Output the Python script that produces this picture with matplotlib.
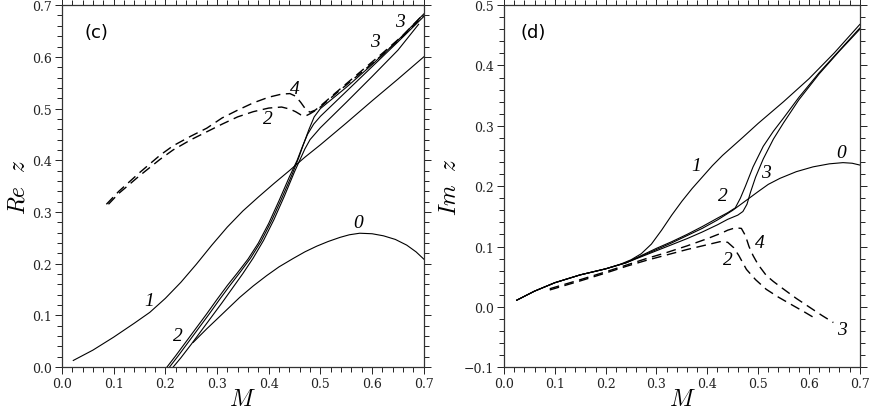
import matplotlib
matplotlib.use("Agg")
import matplotlib.pyplot as plt
from matplotlib.ticker import MultipleLocator, FuncFormatter

plt.rcParams['mathtext.fontset'] = 'cm'
plt.rcParams['font.family'] = ['DejaVu Serif']

# ---------------- panel (c): Re z ----------------
c0_m = [0.254, 0.28, 0.30, 0.322, 0.344, 0.37, 0.396, 0.42, 0.447, 0.47, 0.493, 0.515,
        0.538, 0.556, 0.576, 0.60, 0.622, 0.645, 0.667, 0.685, 0.70]
c0_v = [0.048, 0.074, 0.093, 0.114, 0.135, 0.157, 0.177, 0.194, 0.210, 0.223, 0.234,
        0.243, 0.251, 0.256, 0.259, 0.258, 0.254, 0.247, 0.236, 0.223, 0.209]

c1_m = [0.022, 0.06, 0.10, 0.14, 0.17, 0.20, 0.23, 0.26, 0.29, 0.32, 0.35, 0.38,
        0.41, 0.44, 0.47, 0.50, 0.55, 0.60, 0.65, 0.70]
c1_v = [0.013, 0.033, 0.058, 0.085, 0.106, 0.133, 0.164, 0.199, 0.236, 0.271, 0.302,
        0.329, 0.355, 0.380, 0.406, 0.430, 0.472, 0.515, 0.557, 0.600]

# solid branch "2"
cA_m = [0.203, 0.22, 0.24, 0.26, 0.28, 0.30, 0.32, 0.34, 0.36, 0.38, 0.40, 0.42,
        0.44, 0.455, 0.465, 0.475, 0.487, 0.50, 0.55, 0.60, 0.65, 0.70]
cA_v = [0.0, 0.022, 0.049, 0.076, 0.103, 0.131, 0.158, 0.183, 0.209, 0.240, 0.278,
        0.322, 0.368, 0.400, 0.426, 0.450, 0.470, 0.485, 0.533, 0.581, 0.629, 0.678]
# solid branch following upper curve
cC_m = [0.208, 0.225, 0.245, 0.265, 0.285, 0.305, 0.325, 0.345, 0.365, 0.385, 0.405,
        0.425, 0.445, 0.458, 0.468, 0.478, 0.488, 0.50, 0.55, 0.60, 0.65, 0.70]
cC_v = [0.0, 0.022, 0.049, 0.076, 0.103, 0.131, 0.158, 0.184, 0.211, 0.243, 0.282,
        0.326, 0.372, 0.405, 0.433, 0.460, 0.484, 0.500, 0.541, 0.585, 0.632, 0.683]
# solid branch "3" (lower)
cB_m = [0.215, 0.23, 0.25, 0.27, 0.29, 0.31, 0.33, 0.35, 0.37, 0.39, 0.41, 0.43,
        0.45, 0.46, 0.47, 0.48, 0.50, 0.55, 0.60, 0.65, 0.69]
cB_v = [0.0, 0.018, 0.044, 0.071, 0.098, 0.125, 0.153, 0.181, 0.211, 0.245, 0.285,
        0.330, 0.378, 0.400, 0.422, 0.440, 0.463, 0.512, 0.562, 0.613, 0.663]

# dashed upper branches
cD4_m = [0.086, 0.11, 0.15, 0.19, 0.215, 0.25, 0.28, 0.31, 0.34, 0.37, 0.40, 0.425,
         0.441, 0.452, 0.462, 0.472, 0.48, 0.49, 0.50, 0.53, 0.576, 0.62, 0.66, 0.70]
cD4_v = [0.315, 0.340, 0.376, 0.410, 0.428, 0.447, 0.462, 0.482, 0.497, 0.511, 0.522,
         0.528, 0.529, 0.524, 0.512, 0.498, 0.493, 0.497, 0.505, 0.531, 0.570, 0.607,
         0.642, 0.683]
cD2_m = [0.09, 0.11, 0.15, 0.19, 0.215, 0.25, 0.28, 0.31, 0.34, 0.37, 0.40, 0.425,
         0.441, 0.452, 0.462, 0.472, 0.48, 0.49, 0.50, 0.53, 0.576, 0.62, 0.66, 0.70]
cD2_v = [0.315, 0.336, 0.370, 0.402, 0.420, 0.440, 0.455, 0.470, 0.484, 0.494, 0.501,
         0.503, 0.499, 0.494, 0.488, 0.486, 0.490, 0.496, 0.503, 0.529, 0.567, 0.604,
         0.640, 0.680]

c_labels = ['0', '1', '2', '2', '4', '3', '3']
c_lab_m = [0.573, 0.168, 0.225, 0.399, 0.451, 0.605, 0.654]
c_lab_v = [0.280, 0.129, 0.061, 0.480, 0.538, 0.630, 0.669]

# ---------------- panel (d): Im z ----------------
d1_m = [0.025, 0.06, 0.10, 0.15, 0.20, 0.23, 0.25, 0.27, 0.29, 0.31, 0.33, 0.35, 0.37,
        0.39, 0.41, 0.43, 0.45, 0.47, 0.50, 0.55, 0.60, 0.65, 0.70]
d1_v = [0.011, 0.026, 0.040, 0.053, 0.063, 0.071, 0.078, 0.088, 0.104, 0.127, 0.152,
        0.175, 0.196, 0.215, 0.234, 0.251, 0.266, 0.281, 0.304, 0.340, 0.378, 0.421,
        0.468]

d0_m = [0.025, 0.06, 0.10, 0.15, 0.20, 0.24, 0.27, 0.30, 0.33, 0.36, 0.39, 0.42, 0.45,
        0.471, 0.50, 0.52, 0.543, 0.575, 0.608, 0.64, 0.667, 0.685, 0.70]
d0_v = [0.011, 0.026, 0.040, 0.053, 0.063, 0.073, 0.084, 0.095, 0.106, 0.118, 0.130,
        0.144, 0.160, 0.173, 0.191, 0.203, 0.213, 0.224, 0.232, 0.237, 0.239, 0.238,
        0.235]

d2_m = [0.025, 0.06, 0.10, 0.15, 0.20, 0.24, 0.27, 0.30, 0.33, 0.36, 0.39, 0.42, 0.44,
        0.455, 0.465, 0.475, 0.49, 0.51, 0.53, 0.55, 0.58, 0.62, 0.66, 0.70]
d2_v = [0.011, 0.026, 0.040, 0.053, 0.063, 0.073, 0.085, 0.097, 0.108, 0.120, 0.133,
        0.147, 0.156, 0.164, 0.180, 0.200, 0.232, 0.266, 0.291, 0.313, 0.347, 0.388,
        0.425, 0.462]

d3_m = [0.025, 0.06, 0.10, 0.15, 0.20, 0.24, 0.27, 0.30, 0.33, 0.36, 0.39, 0.42, 0.44,
        0.46, 0.47, 0.478, 0.485, 0.495, 0.51, 0.53, 0.55, 0.58, 0.62, 0.66, 0.70]
d3_v = [0.011, 0.026, 0.040, 0.053, 0.063, 0.073, 0.083, 0.093, 0.103, 0.113, 0.124,
        0.136, 0.145, 0.152, 0.158, 0.170, 0.190, 0.215, 0.245, 0.278, 0.305, 0.343,
        0.386, 0.424, 0.460]

dD4_m = [0.09, 0.15, 0.20, 0.24, 0.28, 0.32, 0.36, 0.40, 0.43, 0.44, 0.455, 0.467,
         0.475, 0.482, 0.49, 0.50, 0.516, 0.53, 0.549, 0.575, 0.60, 0.625, 0.648]
dD4_v = [0.030, 0.045, 0.058, 0.069, 0.080, 0.090, 0.101, 0.113, 0.123, 0.127, 0.131,
         0.130, 0.118, 0.100, 0.085, 0.070, 0.052, 0.042, 0.030, 0.014, 0.000, -0.014,
         -0.026]
dD2_m = [0.09, 0.15, 0.20, 0.24, 0.28, 0.32, 0.36, 0.40, 0.425, 0.44, 0.452, 0.462,
         0.477, 0.495, 0.516, 0.54, 0.569, 0.59, 0.61]
dD2_v = [0.028, 0.043, 0.056, 0.067, 0.077, 0.086, 0.095, 0.103, 0.108, 0.107, 0.098,
         0.085, 0.062, 0.045, 0.029, 0.016, 0.002, -0.008, -0.018]

d_labels = ['1', '2', '3', '0', '4', '2', '3']
d_lab_m = [0.379, 0.431, 0.516, 0.664, 0.503, 0.441, 0.664]
d_lab_v = [0.234, 0.184, 0.223, 0.255, 0.107, 0.079, -0.037]

fig = plt.figure(figsize=(8.72, 4.10), dpi=100)
axc = fig.add_axes([0.071, 0.102, 0.415, 0.883])
axd = fig.add_axes([0.578, 0.102, 0.408, 0.883])

lw = 0.8
dash = (7, 4)
fmt = FuncFormatter(lambda v, p: ('%.1f' % v).replace('-', '\u2212'))

def style(ax, ylo, yhi):
    ax.set_xlim(0.0, 0.7)
    ax.set_ylim(ylo, yhi)
    ax.xaxis.set_major_locator(MultipleLocator(0.1))
    ax.xaxis.set_minor_locator(MultipleLocator(0.02))
    ax.yaxis.set_major_locator(MultipleLocator(0.1))
    ax.yaxis.set_minor_locator(MultipleLocator(0.02))
    ax.xaxis.set_major_formatter(fmt)
    ax.yaxis.set_major_formatter(fmt)
    ax.tick_params(which='both', direction='out', top=True, right=True,
                   labelsize=9, width=0.7, colors='#222222', pad=2)
    ax.tick_params(which='major', length=5)
    ax.tick_params(which='minor', length=3.5)
    for s in ax.spines.values():
        s.set_linewidth(0.9)
        s.set_color('#333333')

style(axc, 0.0, 0.7)
style(axd, -0.1, 0.5)

lab_font = dict(family='Liberation Serif', style='italic', fontsize=14,
                ha='center', va='center')

# panel c curves
axc.plot(c0_m, c0_v, color='k', lw=lw)
axc.plot(c1_m, c1_v, color='k', lw=lw)
axc.plot(cA_m, cA_v, color='k', lw=lw)
axc.plot(cC_m, cC_v, color='k', lw=lw)
axc.plot(cB_m, cB_v, color='k', lw=lw)
axc.plot(cD4_m, cD4_v, color='k', lw=lw + 0.2, dashes=dash)
axc.plot(cD2_m, cD2_v, color='k', lw=lw + 0.2, dashes=dash)

for t, m, v in zip(c_labels, c_lab_m, c_lab_v):
    axc.text(m, v, t, **lab_font)
axc.text(0.067, 0.648, '(c)', family='DejaVu Sans', fontsize=13, ha='center', va='center')
axc.set_xlabel(r'$M$', fontsize=17, labelpad=-2)
axc.set_ylabel(r'$Re\ \ z$', fontsize=17, labelpad=2)

# panel d curves
axd.plot(d1_m, d1_v, color='k', lw=lw)
axd.plot(d0_m, d0_v, color='k', lw=lw)
axd.plot(d2_m, d2_v, color='k', lw=lw)
axd.plot(d3_m, d3_v, color='k', lw=lw)
axd.plot(dD4_m, dD4_v, color='k', lw=lw + 0.2, dashes=dash)
axd.plot(dD2_m, dD2_v, color='k', lw=lw + 0.2, dashes=dash)

for t, m, v in zip(d_labels, d_lab_m, d_lab_v):
    axd.text(m, v, t, **lab_font)
axd.text(0.058, 0.455, '(d)', family='DejaVu Sans', fontsize=13, ha='center', va='center')
axd.set_xlabel(r'$M$', fontsize=17, labelpad=-2)
axd.set_ylabel(r'$Im\ \ z$', fontsize=17, labelpad=2)

fig.savefig('out.png', dpi=100)
